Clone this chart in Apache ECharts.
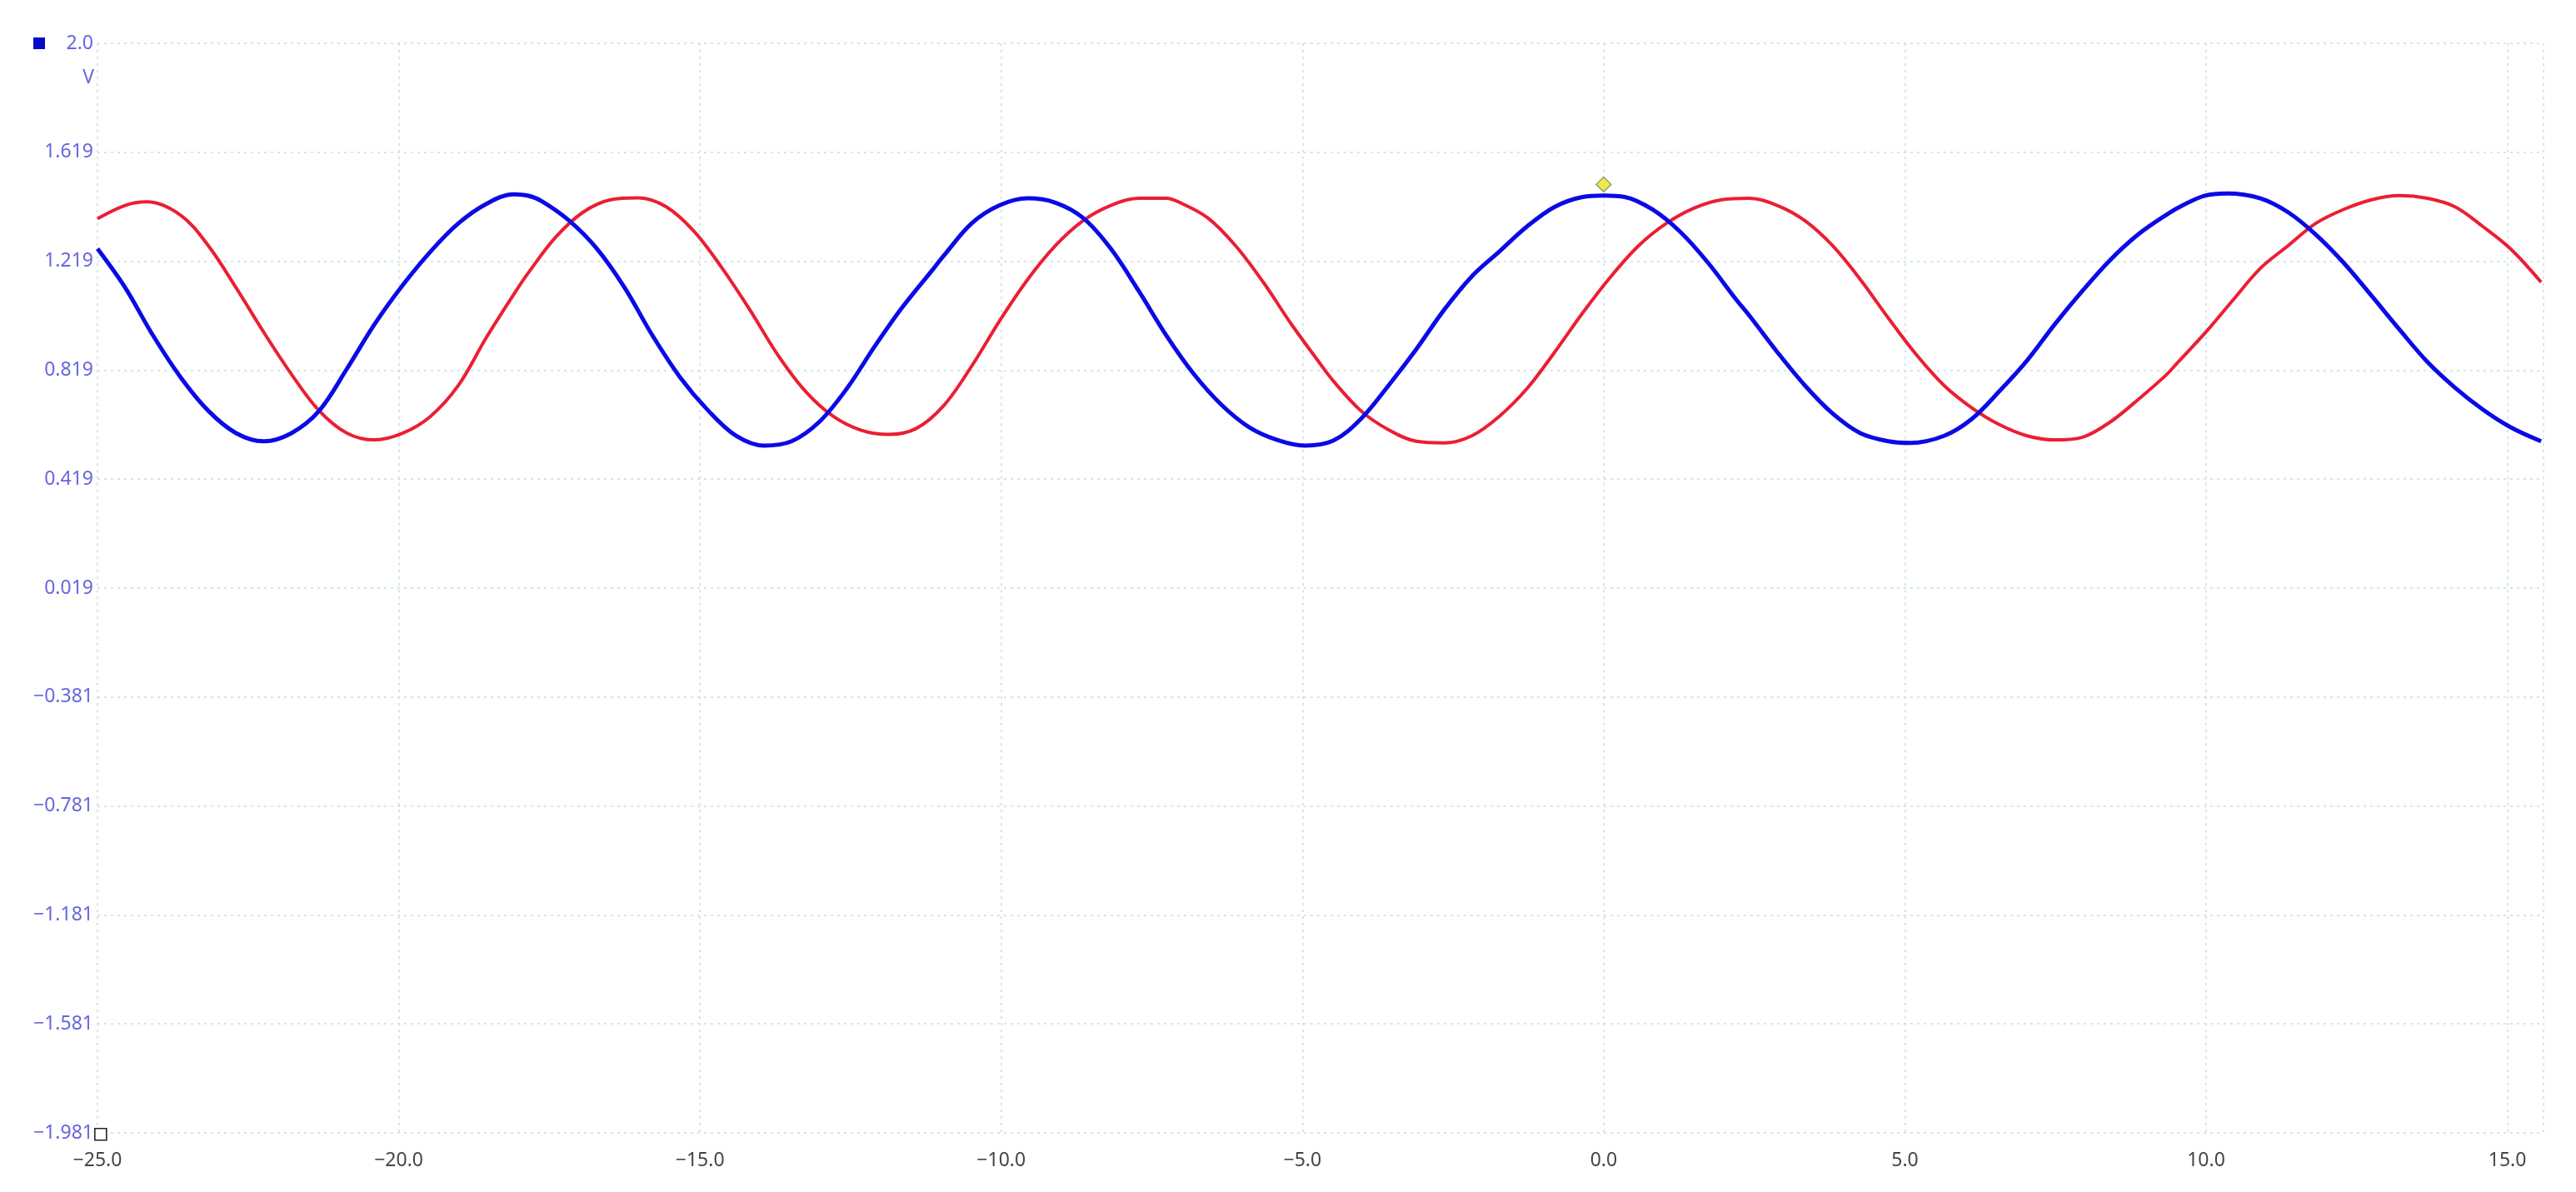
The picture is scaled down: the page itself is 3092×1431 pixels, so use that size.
<!DOCTYPE html>
<html>
<head>
<meta charset="utf-8">
<script src="https://cdn.jsdelivr.net/npm/echarts@6/dist/echarts.min.js"></script>
<style>
html,body{margin:0;padding:0;background:#fff;}
#chart{width:3092px;height:1431px;}
</style>
</head>
<body>
<div id="chart"></div>
<script>
// ---- data (time in x units, volts) ----
const xTicks = [-25, -20, -15, -10, -5, 0, 5, 10, 15];
const xTickLabels = ['\u221225.0', '\u221220.0', '\u221215.0', '\u221210.0', '\u22125.0', '0.0', '5.0', '10.0', '15.0'];
const yTicks = [-1.981, -1.581, -1.181, -0.781, -0.381, 0.019, 0.419, 0.819, 1.219, 1.619, 2.019];
const yTickLabels = ['\u22121.981', '\u22121.581', '\u22121.181', '\u22120.781', '\u22120.381', '0.019', '0.419', '0.819', '1.219', '1.619', '2.0'];
const yUnit = 'V';

const redTrace = [
  [-25.0, 1.375], [-24.54, 1.424], [-24.18, 1.437], [-23.62, 1.388], [-23.16, 1.276], [-22.70, 1.122],
  [-22.24, 0.958], [-21.78, 0.804], [-21.32, 0.670], [-20.86, 0.588], [-20.40, 0.563], [-19.93, 0.588],
  [-19.47, 0.650], [-19.01, 0.763], [-18.55, 0.937], [-18.05, 1.111], [-17.86, 1.173], [-17.40, 1.306],
  [-16.94, 1.399], [-16.48, 1.445], [-16.02, 1.452], [-15.56, 1.419], [-15.09, 1.327], [-14.63, 1.193],
  [-14.17, 1.040], [-13.71, 0.876], [-13.25, 0.742], [-12.79, 0.650], [-12.33, 0.599], [-11.87, 0.583],
  [-11.41, 0.605], [-10.95, 0.690], [-10.49, 0.834], [-10.03, 0.999], [-9.56, 1.152], [-9.10, 1.276],
  [-8.64, 1.368], [-8.18, 1.424], [-7.72, 1.450], [-7.26, 1.450], [-7.03, 1.434], [-6.57, 1.378],
  [-6.11, 1.276], [-5.65, 1.142], [-5.19, 0.990], [-4.73, 0.850], [-4.49, 0.780], [-4.03, 0.670],
  [-3.57, 0.600], [-3.11, 0.558], [-2.65, 0.552], [-2.19, 0.578], [-1.73, 0.650], [-1.27, 0.752],
  [-0.81, 0.886], [-0.35, 1.029], [0.12, 1.163], [0.58, 1.276], [1.04, 1.358], [1.50, 1.414],
  [1.96, 1.445], [2.42, 1.450], [2.88, 1.424], [3.34, 1.368], [3.80, 1.276], [4.26, 1.152],
  [4.73, 1.009], [5.19, 0.876], [5.65, 0.763], [6.11, 0.681], [6.57, 0.619], [7.03, 0.578],
  [7.49, 0.563], [7.95, 0.573], [8.41, 0.629], [8.87, 0.711], [9.33, 0.800], [9.52, 0.845],
  [9.98, 0.955], [10.44, 1.075], [10.90, 1.193], [11.36, 1.276], [11.82, 1.358], [12.28, 1.409],
  [12.75, 1.445], [13.21, 1.460], [13.67, 1.450], [14.13, 1.419], [14.59, 1.347], [15.05, 1.265],
  [15.56, 1.142]
];

const blueTrace = [
  [-25.0, 1.265], [-24.54, 1.122], [-24.08, 0.947], [-23.62, 0.793], [-23.16, 0.670], [-22.70, 0.588],
  [-22.24, 0.558], [-21.78, 0.588], [-21.32, 0.670], [-20.86, 0.824], [-20.40, 0.988], [-19.93, 1.132],
  [-19.47, 1.255], [-19.01, 1.358], [-18.55, 1.429], [-18.09, 1.465], [-17.86, 1.460], [-17.63, 1.440],
  [-17.17, 1.368], [-16.71, 1.265], [-16.25, 1.122], [-15.79, 0.947], [-15.33, 0.793], [-14.86, 0.670],
  [-14.40, 0.578], [-13.94, 0.542], [-13.48, 0.558], [-13.02, 0.629], [-12.56, 0.752], [-12.10, 0.906],
  [-11.64, 1.050], [-11.13, 1.190], [-10.95, 1.240], [-10.49, 1.358], [-10.03, 1.424], [-9.56, 1.450],
  [-9.10, 1.434], [-8.64, 1.378], [-8.18, 1.265], [-7.72, 1.111], [-7.26, 0.947], [-6.80, 0.804],
  [-6.34, 0.691], [-5.88, 0.609], [-5.42, 0.563], [-4.96, 0.542], [-4.49, 0.560], [-4.03, 0.640],
  [-3.57, 0.763], [-3.11, 0.896], [-2.65, 1.040], [-2.19, 1.163], [-1.73, 1.255], [-1.27, 1.347],
  [-0.81, 1.419], [-0.35, 1.455], [0.00, 1.460], [0.35, 1.455], [0.81, 1.409], [1.27, 1.327],
  [1.73, 1.214], [2.19, 1.081], [2.42, 1.019], [2.88, 0.886], [3.34, 0.763], [3.80, 0.660],
  [4.26, 0.588], [4.73, 0.558], [5.09, 0.552], [5.65, 0.578], [6.11, 0.640], [6.57, 0.742],
  [7.03, 0.855], [7.49, 0.988], [7.95, 1.111], [8.41, 1.224], [8.87, 1.317], [9.33, 1.388],
  [9.61, 1.424], [9.98, 1.460], [10.35, 1.468], [10.90, 1.450], [11.36, 1.399], [11.82, 1.317],
  [12.28, 1.214], [12.75, 1.091], [13.21, 0.968], [13.67, 0.850], [14.13, 0.755], [14.59, 0.675],
  [15.05, 0.610], [15.56, 0.558]
];

const triggerMarker = [[0, 1.501]];
const xMin = -25, xMax = 15.6;

// ---- chart ----
const chart = echarts.init(document.getElementById('chart'), null, {renderer: 'canvas'});
const gridLine = {show: true, lineStyle: {color: '#c3e0e7', width: 1.5, type: [3, 5]}};
const FONT = 'Noto Sans, Open Sans, sans-serif';
const Y_COLOR = '#6666dd';

chart.setOption({
  backgroundColor: '#ffffff',
  animation: false,
  grid: {left: 117, right: 39, top: 52, bottom: 71, containLabel: false},
  xAxis: {
    type: 'value', min: xMin, max: xMax, interval: 5,
    axisLine: {show: false}, axisTick: {show: false},
    splitLine: gridLine,
    axisLabel: {
      show: true, color: '#454545', fontSize: 23, fontFamily: FONT, margin: 22,
      showMaxLabel: false,
      formatter: v => { const i = xTicks.findIndex(t => Math.abs(t - v) < 1e-6); return i >= 0 ? xTickLabels[i] : ''; }
    }
  },
  yAxis: {
    type: 'value', min: yTicks[0], max: yTicks[yTicks.length - 1],
    axisLine: {show: false},
    axisTick: {show: false, customValues: yTicks},
    splitLine: gridLine,
    axisLabel: {
      show: true, customValues: yTicks, color: Y_COLOR, fontSize: 23, fontFamily: FONT, margin: 5,
      formatter: v => { const i = yTicks.findIndex(t => Math.abs(t - v) < 1e-6); return i >= 0 ? yTickLabels[i] : ''; }
    }
  },
  series: [
    {
      name: 'CH2', type: 'line', data: redTrace, showSymbol: false, smooth: 0.35,
      lineStyle: {color: '#ec1e32', width: 4}, z: 2
    },
    {
      name: 'CH1', type: 'line', data: blueTrace, showSymbol: false, smooth: 0.35,
      lineStyle: {color: '#0a0ae6', width: 5}, z: 3
    },
    {
      name: 'trigger', type: 'scatter', data: triggerMarker, symbol: 'diamond', symbolSize: [18, 18],
      itemStyle: {color: '#e6e61e', borderColor: '#8a8a6a', borderWidth: 1.5}, z: 5
    }
  ],
  graphic: [
    {type: 'rect', left: 40, top: 45, shape: {width: 14, height: 14}, style: {fill: '#0808c8'}},
    {type: 'text', style: {text: yUnit, x: 113, y: 93, align: 'right', verticalAlign: 'middle', fill: Y_COLOR, font: '23px ' + FONT}},
    {type: 'rect', left: 113, top: 1354, shape: {width: 14, height: 14}, style: {fill: '#ffffff', stroke: '#222222', lineWidth: 1.6}, z: 10}
  ]
});
</script>
</body>
</html>
